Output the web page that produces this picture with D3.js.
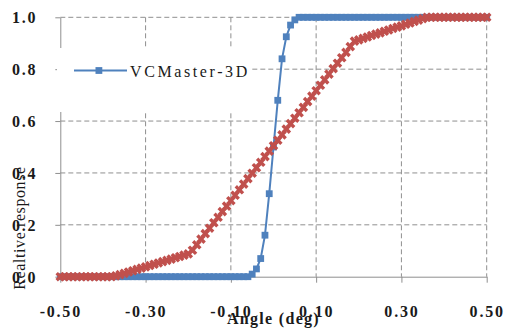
<!DOCTYPE html>
<html>
<head>
<meta charset="utf-8">
<script src="https://cdn.jsdelivr.net/npm/d3@7"></script>
<style>
  body { margin: 0; background: #fff; }
  text { font-family: "Liberation Serif", "Times New Roman", Times, serif; }
</style>
</head>
<body>
<div id="chart"></div>
<script>
// angles (deg), one every 0.01
var angles = [
  -0.50, -0.49, -0.48, -0.47, -0.46, -0.45, -0.44, -0.43, -0.42, -0.41,
  -0.40, -0.39, -0.38, -0.37, -0.36, -0.35, -0.34, -0.33, -0.32, -0.31,
  -0.30, -0.29, -0.28, -0.27, -0.26, -0.25, -0.24, -0.23, -0.22, -0.21,
  -0.20, -0.19, -0.18, -0.17, -0.16, -0.15, -0.14, -0.13, -0.12, -0.11,
  -0.10, -0.09, -0.08, -0.07, -0.06, -0.05, -0.04, -0.03, -0.02, -0.01,
  0.00, 0.01, 0.02, 0.03, 0.04, 0.05, 0.06, 0.07, 0.08, 0.09,
  0.10, 0.11, 0.12, 0.13, 0.14, 0.15, 0.16, 0.17, 0.18, 0.19,
  0.20, 0.21, 0.22, 0.23, 0.24, 0.25, 0.26, 0.27, 0.28, 0.29,
  0.30, 0.31, 0.32, 0.33, 0.34, 0.35, 0.36, 0.37, 0.38, 0.39,
  0.40, 0.41, 0.42, 0.43, 0.44, 0.45, 0.46, 0.47, 0.48, 0.49,
  0.50
];

// VCMaster-3D (blue squares)
var vcmaster = [
  0, 0, 0, 0, 0, 0, 0, 0, 0, 0,
  0, 0, 0, 0, 0, 0, 0, 0, 0, 0,
  0, 0, 0, 0, 0, 0, 0, 0, 0, 0,
  0, 0, 0, 0, 0, 0, 0, 0, 0, 0,
  0, 0, 0, 0, 0, 0.01, 0.03, 0.07, 0.16, 0.32,
  0.50, 0.68, 0.84, 0.925, 0.97, 0.99, 1, 1, 1, 1,
  1, 1, 1, 1, 1, 1, 1, 1, 1, 1,
  1, 1, 1, 1, 1, 1, 1, 1, 1, 1,
  1, 1, 1, 1, 1, 1, 1, 1, 1, 1,
  1, 1, 1, 1, 1, 1, 1, 1, 1, 1,
  1
];

// second curve (red), no legend entry
var other = [
  0, 0, 0, 0, 0, 0, 0, 0, 0, 0,
  0, 0, 0, 0.003, 0.008, 0.013, 0.018, 0.023, 0.028, 0.033,
  0.038, 0.043, 0.048, 0.053, 0.058, 0.063, 0.068, 0.073, 0.078, 0.083,
  0.088, 0.102, 0.123, 0.145, 0.166, 0.187, 0.208, 0.229, 0.251, 0.272,
  0.293, 0.314, 0.335, 0.357, 0.378, 0.399, 0.420, 0.441, 0.463, 0.484,
  0.505, 0.526, 0.547, 0.569, 0.590, 0.611, 0.632, 0.653, 0.675, 0.696,
  0.717, 0.738, 0.759, 0.781, 0.802, 0.823, 0.844, 0.865, 0.887, 0.908,
  0.913, 0.919, 0.924, 0.930, 0.935, 0.940, 0.946, 0.951, 0.957, 0.962,
  0.967, 0.973, 0.978, 0.984, 0.989, 0.995, 1, 1, 1, 1,
  1, 1, 1, 1, 1, 1, 1, 1, 1, 1,
  1
];

var xTicks = [-0.50, -0.30, -0.10, 0.10, 0.30, 0.50];
var yTicks = [0, 0.2, 0.4, 0.6, 0.8, 1.0];

var W = 508, H = 333;
var margin = { top: 17.3, right: 21.3, bottom: 56.3, left: 60.3 },
  width = W - margin.left - margin.right,
  height = H - margin.top - margin.bottom;

var svg = d3.select("#chart")
  .append("svg")
  .attr("width", W)
  .attr("height", H)
  .append("g")
  .attr("transform", "translate(" + margin.left + "," + margin.top + ")");

var x = d3.scaleLinear().domain([-0.5, 0.5]).range([0, width]);
var y = d3.scaleLinear().domain([0, 1]).range([height, 0]);

var gridColor = "#8f8f8f";

// dashed grid
svg.append("g")
  .selectAll("line")
  .data(yTicks.filter(function (d) { return d > 0; }))
  .enter().append("line")
  .attr("x1", 0).attr("x2", width)
  .attr("y1", function (d) { return y(d); })
  .attr("y2", function (d) { return y(d); })
  .attr("stroke", gridColor)
  .attr("stroke-dasharray", "5,3");

svg.append("g")
  .selectAll("line")
  .data(xTicks.filter(function (d) { return d > -0.5; }))
  .enter().append("line")
  .attr("y1", 0).attr("y2", height)
  .attr("x1", function (d) { return x(d); })
  .attr("x2", function (d) { return x(d); })
  .attr("stroke", gridColor)
  .attr("stroke-dasharray", "5,3");

// axes
var xAxis = svg.append("g")
  .attr("transform", "translate(0," + height + ")")
  .call(d3.axisBottom(x).tickValues(xTicks).tickSize(6).tickSizeOuter(0)
    .tickFormat(function (d) { return d.toFixed(2); }));

var yAxis = svg.append("g")
  .call(d3.axisLeft(y).tickValues(yTicks).tickSize(5).tickSizeOuter(0)
    .tickFormat(function (d) { return d.toFixed(1); }));

[xAxis, yAxis].forEach(function (a) {
  a.attr("font-family", null);
  a.select(".domain").attr("stroke", gridColor);
  a.selectAll(".tick line").attr("stroke", gridColor);
  a.selectAll("text")
    .attr("fill", "#1a1a1a")
    .style("font-family", "'Liberation Serif', 'Times New Roman', serif")
    .style("font-weight", "bold")
    .style("font-size", "16px")
    .style("letter-spacing", "1.8px");
});

xAxis.selectAll("text").attr("y", 40).attr("dy", null);
yAxis.selectAll("text").attr("x", -23).attr("dy", "0.35em");

// lines + markers
function pts(vals) {
  return angles.map(function (a, i) { return [a, vals[i]]; });
}
var line = d3.line()
  .x(function (d) { return x(d[0]); })
  .y(function (d) { return y(d[1]); });

var blue = "#4f81bd", red = "#c0504d";

svg.append("path")
  .datum(pts(vcmaster))
  .attr("d", line)
  .attr("fill", "none")
  .attr("stroke", blue)
  .attr("stroke-width", 2);

svg.append("g")
  .selectAll("rect")
  .data(pts(vcmaster))
  .enter().append("rect")
  .attr("x", function (d) { return x(d[0]) - 3.4; })
  .attr("y", function (d) { return y(d[1]) - 3.4; })
  .attr("width", 6.8)
  .attr("height", 6.8)
  .attr("fill", blue);

svg.append("path")
  .datum(pts(other))
  .attr("d", line)
  .attr("fill", "none")
  .attr("stroke", red)
  .attr("stroke-width", 3);

var cross = d3.symbol().type(d3.symbolCross).size(58);
svg.append("g")
  .selectAll("path")
  .data(pts(other))
  .enter().append("path")
  .attr("d", cross)
  .attr("transform", function (d) {
    return "translate(" + x(d[0]) + "," + y(d[1]) + ") rotate(45)";
  })
  .attr("fill", red);

// legend
var lg = svg.append("g").attr("transform", "translate(" + (-3.3) + "," + 30.7 + ")");
lg.append("rect")
  .attr("width", 195).attr("height", 64)
  .attr("fill", "#fff");
lg.append("line")
  .attr("x1", 17).attr("x2", 70)
  .attr("y1", 22.5).attr("y2", 22.5)
  .attr("stroke", blue).attr("stroke-width", 2);
lg.append("rect")
  .attr("x", 38.5).attr("y", 19.1)
  .attr("width", 6.8).attr("height", 6.8)
  .attr("fill", blue);
lg.append("text")
  .attr("x", 73).attr("y", 29)
  .style("font-size", "16px")
  .style("letter-spacing", "2.6px")
  .attr("fill", "#1a1a1a")
  .text("VCMaster-3D");

// axis titles
svg.append("text")
  .attr("x", x(0)).attr("y", height + 47.5)
  .attr("text-anchor", "middle")
  .style("font-size", "16px")
  .style("font-weight", "bold")
  .style("letter-spacing", "1.3px")
  .attr("fill", "#1a1a1a")
  .text("Angle (deg)");

svg.append("text")
  .attr("transform", "translate(" + (25 - margin.left) + "," + (228 - margin.top) + ") rotate(-90)")
  .attr("text-anchor", "middle")
  .style("font-size", "16px")
  .style("letter-spacing", "0.6px")
  .attr("fill", "#1a1a1a")
  .text("Realtive response");
</script>
</body>
</html>
